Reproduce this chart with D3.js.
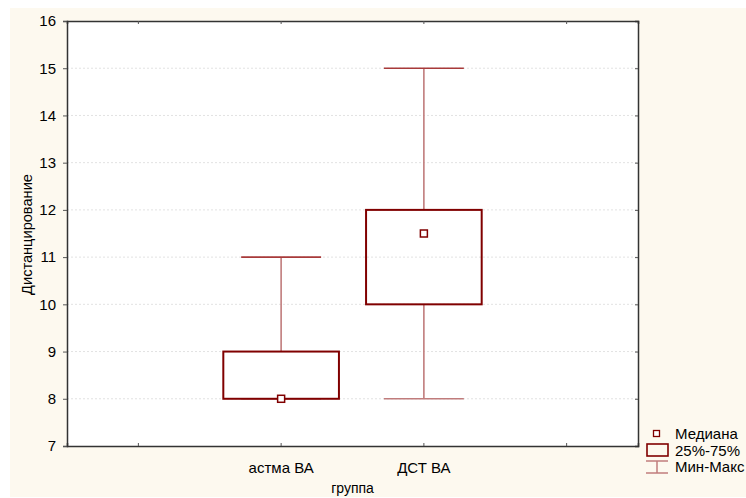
<!DOCTYPE html>
<html>
<head>
<meta charset="utf-8">
<script src="https://cdn.jsdelivr.net/npm/d3@7"></script>
<style>
  html, body { margin: 0; padding: 0; background: #ffffff; }
  svg { display: block; font-family: "Liberation Sans", Arial, sans-serif; }
</style>
</head>
<body>
<svg id="chart" width="746" height="498"></svg>
<script>
// Category slots along x (outer slots are empty padding)
const categories = ["", "астма ВА", "ДСТ ВА", " "];
const groups = ["астма ВА", "ДСТ ВА"];
const mins    = [8, 8];
const q1s     = [8, 10];
const medians = [8, 11.5];
const q3s     = [9, 12];
const maxs    = [11, 15];
const yTicks = [7, 8, 9, 10, 11, 12, 13, 14, 15, 16];

const svg = d3.select("#chart");
const W = 746, H = 498;
const margin = { left: 67, top: 21, right: 108, bottom: 52 };
const x0 = margin.left, x1 = W - margin.right;
const y0 = margin.top, y1 = H - margin.bottom;

const boxColor = "#800000";
const whiskerColor = "#c07c7c";

// cream chart background
svg.append("rect").attr("x", 10).attr("y", 8).attr("width", W - 10).attr("height", H - 9)
  .attr("fill", "#fdf9ef");
svg.append("rect").attr("x", x0).attr("y", y0).attr("width", x1 - x0).attr("height", y1 - y0)
  .attr("fill", "#ffffff");

const x = d3.scaleBand().domain(categories).range([x0, x1]).paddingInner(0).paddingOuter(0);
const y = d3.scaleLinear().domain([7, 16]).range([y1, y0]);

// horizontal grid
svg.append("g").selectAll("line").data(yTicks.slice(1, -1)).join("line")
  .attr("x1", x0).attr("x2", x1)
  .attr("y1", d => y(d)).attr("y2", d => y(d))
  .attr("stroke", "#e2e2e2").attr("stroke-width", 1)
  .attr("stroke-dasharray", "2,2");

// axes
const tickFont = g => g.selectAll("text").attr("font-size", 15).attr("fill", "#000")
  .attr("font-family", "Liberation Sans, Arial, sans-serif");
const axLeft = svg.append("g").attr("transform", `translate(${x0},0)`)
  .call(d3.axisLeft(y).tickValues(yTicks).tickSize(4).tickPadding(7).tickFormat(d3.format("d")));
axLeft.call(tickFont);
const axRight = svg.append("g").attr("transform", `translate(${x1},0)`)
  .call(d3.axisRight(y).tickValues(yTicks).tickSize(-3).tickFormat(""));
const axBottom = svg.append("g").attr("transform", `translate(0,${y1})`)
  .call(d3.axisBottom(x).tickSize(-3).tickPadding(16).tickFormat(d => d.trim()));
axBottom.call(tickFont);
const axTop = svg.append("g").attr("transform", `translate(0,${y0})`)
  .call(d3.axisTop(x).tickSize(-3).tickFormat(""));
[axLeft, axRight, axBottom, axTop].forEach(g => {
  g.select(".domain").attr("stroke", "#333").attr("stroke-width", 1.5);
  g.selectAll(".tick line").attr("stroke", "#555");
});

// axis titles
svg.append("text").attr("x", (x0 + x1) / 2).attr("y", 493)
  .attr("text-anchor", "middle").attr("font-size", 14).text("группа");
svg.append("text").attr("transform", "translate(32,234.5) rotate(-90)")
  .attr("text-anchor", "middle").attr("font-size", 14.6).text("Дистанцирование");

// box plots
const bw = x.bandwidth();
const boxW = bw * 0.81, capW = bw * 0.56;
const gBox = svg.append("g");
groups.forEach((g, i) => {
  const cx = x(g) + bw / 2;
  // whiskers
  gBox.append("line").attr("x1", cx).attr("x2", cx).attr("y1", y(maxs[i])).attr("y2", y(q3s[i]))
    .attr("stroke", whiskerColor).attr("stroke-width", 1.6);
  gBox.append("line").attr("x1", cx).attr("x2", cx).attr("y1", y(q1s[i])).attr("y2", y(mins[i]))
    .attr("stroke", whiskerColor).attr("stroke-width", 1.6);
  gBox.append("line").attr("x1", cx - capW / 2).attr("x2", cx + capW / 2)
    .attr("y1", y(maxs[i])).attr("y2", y(maxs[i]))
    .attr("stroke", "#a83a3a").attr("stroke-width", 1.6);
  gBox.append("line").attr("x1", cx - capW / 2).attr("x2", cx + capW / 2)
    .attr("y1", y(mins[i])).attr("y2", y(mins[i]))
    .attr("stroke", whiskerColor).attr("stroke-width", 1.6);
  // box
  gBox.append("rect").attr("x", cx - boxW / 2).attr("y", y(q3s[i]))
    .attr("width", boxW).attr("height", y(q1s[i]) - y(q3s[i]))
    .attr("fill", "none").attr("stroke", boxColor).attr("stroke-width", 2);
  // median
  gBox.append("rect").attr("x", cx - 3.5).attr("y", y(medians[i]) - 3.5)
    .attr("width", 7).attr("height", 7)
    .attr("fill", "#fff").attr("stroke", boxColor).attr("stroke-width", 1.5);
});

// legend
const lg = svg.append("g").attr("font-size", 15);
lg.append("rect").attr("x", 653.5).attr("y", 430.5).attr("width", 6).attr("height", 6)
  .attr("fill", "#fff").attr("stroke", boxColor).attr("stroke-width", 1.3);
lg.append("text").attr("x", 675).attr("y", 439).text("Медиана");
lg.append("rect").attr("x", 647).attr("y", 444).attr("width", 21).attr("height", 12)
  .attr("fill", "none").attr("stroke", boxColor).attr("stroke-width", 1.6);
lg.append("text").attr("x", 675).attr("y", 456).text("25%-75%");
lg.append("line").attr("x1", 646).attr("x2", 668).attr("y1", 461).attr("y2", 461)
  .attr("stroke", whiskerColor).attr("stroke-width", 1.5);
lg.append("line").attr("x1", 646).attr("x2", 668).attr("y1", 473).attr("y2", 473)
  .attr("stroke", whiskerColor).attr("stroke-width", 1.5);
lg.append("line").attr("x1", 657).attr("x2", 657).attr("y1", 461).attr("y2", 473)
  .attr("stroke", whiskerColor).attr("stroke-width", 1.5);
lg.append("text").attr("x", 675).attr("y", 472).text("Мин-Макс");
</script>
</body>
</html>
